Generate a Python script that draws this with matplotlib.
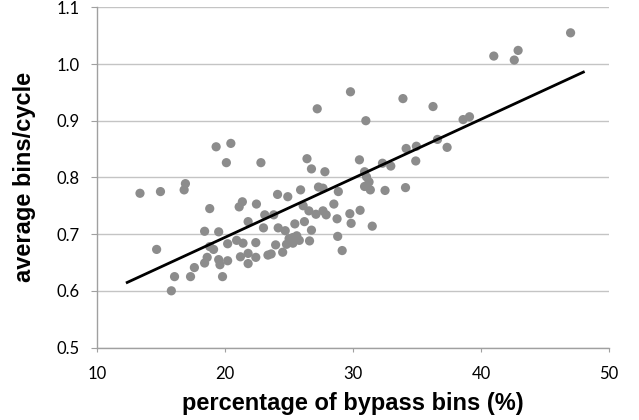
import matplotlib
matplotlib.use('Agg')
import matplotlib.pyplot as plt
import numpy as np

# percentage of bypass bins (%) vs average bins/cycle
bypass_pct = [19.3, 20.45, 20.1, 22.8, 27.2, 29.8, 26.4, 26.75, 27.8, 30.5,
              31.0, 33.9, 36.25, 38.6, 39.1, 41.0, 42.6, 42.9, 47.0, 34.15,
              34.95, 34.9, 36.6, 37.35, 32.3, 32.95, 30.9, 31.05, 31.25, 30.9,
              31.35, 32.5, 34.1, 13.35, 14.95, 16.9, 16.8, 18.8, 21.35, 21.1,
              22.45, 24.1, 24.9, 21.8, 23.1, 23.8, 25.9, 27.3, 27.65, 28.85,
              26.1, 26.55, 27.1, 27.65, 27.9, 28.5, 28.75, 29.75, 30.55, 25.45,
              26.2, 29.85, 31.5, 14.65, 16.05, 15.8, 17.3, 17.6, 18.4, 19.5,
              19.1, 18.8, 18.6, 18.4, 19.5, 19.6, 20.2, 20.2, 19.8, 20.9,
              21.4, 21.2, 21.8, 21.8, 22.4, 22.4, 23.0, 23.35, 23.6, 23.95,
              24.15, 24.7, 24.5, 24.8, 25.0, 25.3, 25.6, 25.8, 26.75, 26.6,
              28.8, 29.15, 25.3]
avg_bins = [0.854, 0.860, 0.826, 0.826, 0.921, 0.951, 0.833, 0.815, 0.810, 0.831,
            0.900, 0.939, 0.925, 0.902, 0.907, 1.014, 1.007, 1.024, 1.055, 0.851,
            0.855, 0.829, 0.867, 0.853, 0.825, 0.820, 0.810, 0.801, 0.792, 0.784,
            0.778, 0.777, 0.782, 0.772, 0.775, 0.789, 0.778, 0.745, 0.757, 0.748,
            0.753, 0.770, 0.766, 0.722, 0.734, 0.734, 0.778, 0.783, 0.781, 0.775,
            0.750, 0.741, 0.735, 0.741, 0.734, 0.753, 0.727, 0.736, 0.742, 0.718,
            0.722, 0.719, 0.714, 0.673, 0.625, 0.600, 0.625, 0.641, 0.705, 0.704,
            0.673, 0.678, 0.659, 0.649, 0.655, 0.646, 0.683, 0.653, 0.625, 0.689,
            0.684, 0.660, 0.648, 0.666, 0.685, 0.659, 0.711, 0.663, 0.665, 0.681,
            0.711, 0.706, 0.668, 0.682, 0.692, 0.694, 0.697, 0.689, 0.707, 0.688,
            0.696, 0.671, 0.684]

x_ticks = [10, 20, 30, 40, 50]
y_ticks = [0.5, 0.6, 0.7, 0.8, 0.9, 1.0, 1.1]

x = np.array(bypass_pct)
y = np.array(avg_bins)
# linear trendline, extended 1 unit past the data on both ends
slope, intercept = np.polyfit(x, y, 1)
line_x = np.array([x.min() - 1, x.max() + 1])
line_y = slope * line_x + intercept

fig = plt.figure(figsize=(6.39, 4.2), dpi=100)
ax = fig.add_axes([0.152, 0.1726, 0.801, 0.8100])

ax.scatter(x, y, s=44, color='#8c8c8c', edgecolors='none', zorder=3)
ax.plot(line_x, line_y, color='black', lw=2.0, zorder=4)

ax.set_xlim(10, 50)
ax.set_ylim(0.5, 1.1)
ax.set_xticks(x_ticks)
ax.set_yticks(y_ticks)
ax.set_xticklabels([str(t) for t in x_ticks], fontfamily='Lato', fontsize=12)
ax.set_yticklabels(['%.1f' % t for t in y_ticks], fontfamily='Lato', fontsize=12)

ax.grid(axis='y', color='#c4c4c4', lw=1)
ax.set_axisbelow(True)
for s in ['top', 'right']:
    ax.spines[s].set_visible(False)
for s in ['left', 'bottom']:
    ax.spines[s].set_color('#a0a0a0')
    ax.spines[s].set_linewidth(1)
ax.tick_params(axis='y', length=4.5, color='#a0a0a0', pad=8)
ax.tick_params(axis='x', length=3, color='#a0a0a0', pad=10.5)

ax.set_xlabel('percentage of bypass bins (%)', fontfamily='Liberation Sans',
              fontweight='bold', fontsize=17, labelpad=7)
ax.set_ylabel('average bins/cycle', fontfamily='Liberation Sans',
              fontweight='bold', fontsize=17, labelpad=15)

fig.savefig('out.png', dpi=100)
